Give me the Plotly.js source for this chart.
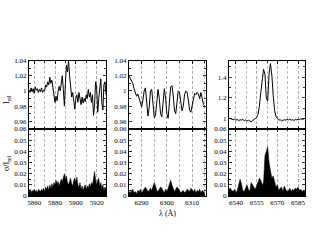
<!DOCTYPE html>
<html><head><meta charset="utf-8">
<script src="https://cdn.plot.ly/plotly-3.0.1.min.js"></script>
<style>html,body{margin:0;padding:0;background:#fff}#c{width:317px;height:245px}</style>
</head><body><div id="c"></div>
<script>
const wl1 = [5855,5856,5857,5858,5859,5860,5861,5862,5863,5864,5865,5866,5867,5868,5869,5870,5871,5872,5873,5874,5875,5876,5877,5878,5879,5880,5881,5882,5883,5884,5885,5886,5887,5888,5889,5890,5891,5892,5893,5894,5895,5896,5897,5898,5899,5900,5901,5902,5903,5904,5905,5906,5907,5908,5909,5910,5911,5912,5913,5914,5915,5916,5917,5918,5919,5920,5921,5922,5923,5924,5925,5926,5927,5928,5929];
const flux1 = [1.000,0.998,1.004,0.999,1.003,0.997,1.005,1.001,1.003,0.998,1.002,0.999,1.004,0.998,1.001,1.000,1.008,1.005,1.012,1.008,1.018,1.010,1.014,1.004,0.990,0.985,0.993,0.987,1.000,1.006,1.000,1.012,1.020,1.002,0.980,1.010,1.034,1.025,1.040,1.020,1.005,0.992,0.998,0.985,0.976,0.990,0.995,0.985,0.998,0.990,0.982,0.992,0.984,0.990,0.986,0.995,0.990,1.002,0.992,0.998,0.985,0.995,0.968,0.980,1.012,1.005,0.972,0.990,1.010,1.016,0.985,0.975,1.008,1.012,0.995];
const err1 = [0.004,0.006,0.003,0.005,0.004,0.006,0.004,0.005,0.003,0.006,0.005,0.004,0.006,0.005,0.007,0.004,0.008,0.006,0.009,0.005,0.010,0.007,0.011,0.008,0.012,0.010,0.014,0.011,0.013,0.009,0.012,0.015,0.013,0.017,0.020,0.015,0.018,0.012,0.010,0.013,0.016,0.011,0.009,0.014,0.016,0.012,0.017,0.010,0.008,0.012,0.006,0.009,0.005,0.008,0.010,0.006,0.009,0.007,0.011,0.008,0.012,0.010,0.018,0.022,0.015,0.010,0.014,0.016,0.009,0.012,0.007,0.010,0.005,0.008,0.006];

const wl2 = [6285,6285.5,6286,6286.5,6287,6287.5,6288,6288.5,6289,6289.5,6290,6290.5,6291,6291.5,6292,6292.5,6293,6293.5,6294,6294.5,6295,6295.5,6296,6296.5,6297,6297.5,6298,6298.5,6299,6299.5,6300,6300.5,6301,6301.5,6302,6302.5,6303,6303.5,6304,6304.5,6305,6305.5,6306,6306.5,6307,6307.5,6308,6308.5,6309,6309.5,6310,6310.5,6311,6311.5,6312,6312.5,6313,6313.5,6314,6314.5,6315];
const flux2 = [1.020,1.017,1.015,1.010,1.003,0.996,0.993,0.996,0.990,0.982,0.979,0.988,1.000,1.004,0.985,0.967,0.978,1.000,1.002,0.985,0.965,0.968,0.990,1.002,0.990,0.970,0.966,0.985,1.003,0.990,0.970,0.964,0.985,1.005,1.007,0.995,0.975,0.970,0.985,1.000,0.998,0.985,0.974,0.980,0.995,1.000,0.998,0.988,0.975,0.972,0.982,0.993,0.997,0.995,0.998,0.996,0.990,0.998,0.988,0.982,0.980];
const err2 = [0.004,0.003,0.005,0.006,0.003,0.004,0.002,0.005,0.004,0.006,0.003,0.005,0.007,0.008,0.006,0.004,0.005,0.007,0.005,0.008,0.012,0.009,0.005,0.004,0.006,0.008,0.007,0.005,0.003,0.006,0.004,0.007,0.010,0.014,0.010,0.006,0.004,0.006,0.008,0.007,0.005,0.003,0.004,0.005,0.003,0.004,0.006,0.005,0.004,0.007,0.005,0.004,0.006,0.003,0.005,0.004,0.006,0.003,0.005,0.004,0.003];

const wl3 = [6535,6536,6537,6538,6539,6540,6541,6542,6543,6544,6545,6546,6547,6548,6549,6550,6551,6552,6553,6554,6555,6556,6557,6558,6559,6560,6561,6562,6563,6564,6565,6566,6567,6568,6569,6570,6571,6572,6573,6574,6575,6576,6577,6578,6579,6580,6581,6582,6583,6584,6585,6586,6587,6588,6589,6590];
const flux3 = [1.005,1.000,0.998,0.990,0.995,0.985,0.992,0.980,0.990,0.985,0.995,0.978,0.988,0.975,0.985,0.978,0.970,0.982,0.990,0.995,1.010,1.040,1.120,1.250,1.400,1.475,1.430,1.200,1.170,1.430,1.530,1.420,1.220,1.080,1.020,0.995,0.985,0.990,0.978,0.982,0.990,0.985,0.992,0.988,0.995,0.985,0.990,0.982,0.992,0.988,0.995,0.990,0.998,0.993,1.000,1.002];
const err3 = [0.006,0.007,0.005,0.004,0.006,0.003,0.005,0.010,0.015,0.011,0.005,0.004,0.008,0.010,0.006,0.004,0.012,0.010,0.008,0.006,0.009,0.012,0.016,0.014,0.010,0.012,0.036,0.040,0.044,0.030,0.022,0.016,0.018,0.012,0.008,0.010,0.005,0.007,0.008,0.004,0.009,0.006,0.004,0.005,0.007,0.004,0.006,0.005,0.007,0.006,0.008,0.005,0.006,0.004,0.005,0.004];

const xTickLabels = {p1:[5860,5880,5900,5920], p2:[6290,6300,6310], p3:[6540,6555,6570,6585]};

const FONT = 'Liberation Serif, Times New Roman, serif';
const W = 317, H = 245;
const px = v => v / W, py = v => (H - v) / H;
const GRID = '#a8a8a8', GDASH = '3px,2px';

function lineTrace(x, y, xa, ya) {
  return {x, y, xaxis: xa, yaxis: ya, type: 'scatter', mode: 'lines',
    line: {color: '#000', width: 1}, hoverinfo: 'skip'};
}
function fillTrace(x, y, xa, ya) {
  return {x, y, xaxis: xa, yaxis: ya, type: 'scatter', mode: 'lines',
    fill: 'tozeroy', fillcolor: '#000', line: {color: '#000', width: 0.5}, hoverinfo: 'skip'};
}

const data = [
  lineTrace(wl1, flux1, 'x', 'y'), lineTrace(wl2, flux2, 'x2', 'y2'), lineTrace(wl3, flux3, 'x3', 'y3'),
  fillTrace(wl1, err1, 'x4', 'y4'), fillTrace(wl2, err2, 'x5', 'y5'), fillTrace(wl3, err3, 'x6', 'y6')
];

const base = {showline: true, linecolor: '#000', linewidth: 1, mirror: 'allticks',
  ticks: 'inside', ticklen: 3, tickwidth: 0.8, tickcolor: '#000', zeroline: false,
  tickfont: {family: FONT, size: 7, color: '#000'}, fixedrange: true};

function xax(dom, range, tickvals, minorDtick, minorTick0, labels, anchor) {
  return Object.assign({}, base, {
    domain: dom, range, anchor, tickmode: 'array', tickvals,
    ticktext: tickvals.map(String), showticklabels: labels,
    showgrid: true, gridcolor: GRID, gridwidth: 0.8, griddash: GDASH,
    minor: {tick0: minorTick0, dtick: minorDtick, ticks: 'inside', ticklen: 2, tickcolor: '#000',
      showgrid: true, gridcolor: GRID, gridwidth: 0.8, griddash: GDASH}
  });
}
function yax(dom, range, dtick, minorDtick, anchor) {
  return Object.assign({}, base, {
    domain: dom, range, anchor, tick0: 0, dtick, showgrid: false,
    minor: {dtick: minorDtick, ticks: 'inside', ticklen: 2, tickcolor: '#000'}
  });
}

const dx1 = [px(29), px(106)], dx2 = [px(129), px(206)], dx3 = [px(229), px(305)];
const dTop = [py(129), py(60.5)], dBot = [py(196), py(129)];

const ax5 = xax(dx2, [6285, 6315.5], xTickLabels.p2, 5, 6290, true, 'y5');
ax5.title = {text: 'λ (Å)', font: {family: FONT, size: 8, color: '#000000'}, standoff: 3};

const layout = {
  width: W, height: H, margin: {l: 0, r: 0, t: 0, b: 0},
  paper_bgcolor: '#fff', plot_bgcolor: '#fff', showlegend: false,
  font: {family: FONT, size: 7, color: '#000'},
  xaxis: xax(dx1, [5855, 5929], xTickLabels.p1, 10, 5860, false, 'y'),
  xaxis2: xax(dx2, [6285, 6315.5], xTickLabels.p2, 5, 6290, false, 'y2'),
  xaxis3: xax(dx3, [6535, 6590], xTickLabels.p3, 7.5, 6540, false, 'y3'),
  xaxis4: xax(dx1, [5855, 5929], xTickLabels.p1, 10, 5860, true, 'y4'),
  xaxis5: ax5,
  xaxis6: xax(dx3, [6535, 6590], xTickLabels.p3, 7.5, 6540, true, 'y6'),
  yaxis: yax(dTop, [0.95, 1.04], 0.02, 0.01, 'x'),
  yaxis2: yax(dTop, [0.95, 1.04], 0.02, 0.01, 'x2'),
  yaxis3: yax(dTop, [0.9, 1.56], 0.2, 0.1, 'x3'),
  yaxis4: yax(dBot, [0, 0.06], 0.01, 0.005, 'x4'),
  yaxis5: yax(dBot, [0, 0.06], 0.01, 0.005, 'x5'),
  yaxis6: yax(dBot, [0, 0.06], 0.01, 0.005, 'x6'),
  shapes: [
    {type: 'line', xref: 'paper', yref: 'paper', x0: px(29), x1: px(106), y0: py(129), y1: py(129), line: {color: '#000', width: 1.3}},
    {type: 'line', xref: 'paper', yref: 'paper', x0: px(129), x1: px(206), y0: py(129), y1: py(129), line: {color: '#000', width: 1.3}},
    {type: 'line', xref: 'paper', yref: 'paper', x0: px(229), x1: px(305), y0: py(129), y1: py(129), line: {color: '#000', width: 1.3}}
  ],
  annotations: [
    {text: 'I<sub>rel</sub>', xref: 'paper', yref: 'paper', x: px(7), y: py(100), textangle: -90,
      showarrow: false, font: {family: FONT, size: 8, color: '#000'}, xanchor: 'center', yanchor: 'middle'},
    {text: 'σ/I<sub>rel</sub>', xref: 'paper', yref: 'paper', x: px(7), y: py(163), textangle: -90,
      showarrow: false, font: {family: FONT, size: 8, color: '#000'}, xanchor: 'center', yanchor: 'middle'}
  ]
};

Plotly.newPlot('c', data, layout, {staticPlot: true, displayModeBar: false});
</script></body></html>
